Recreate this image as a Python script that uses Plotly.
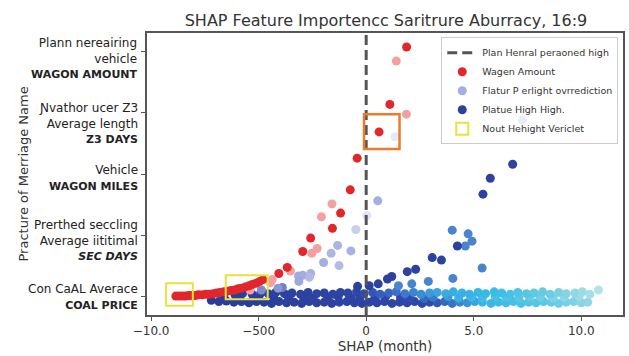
import plotly.graph_objects as go

# ---------------- data ----------------
title_text = "SHAP Feature Importencc Saritrure Aburracy, 16:9"
y_positions = [0, 1, 2, 3, 4]
y_categories = [
    "Con CaAL Averace<br><b>COAL PRICE</b>",
    "Prerthed seccling<br>Average iititimal<br><b><i>SEC DAYS</i></b>",
    "Vehicle<br><b>WAGON MILES</b>",
    "Ɲvathor ucer Z3<br>Average length<br><b>Z3 DAYS</b>",
    "Plann nereairing<br>vehicle<br><b>WAGON AMOUNT</b>",
]
x_tick_vals = [-10, -5, 0, 5, 10]
x_tick_text = ["\u221210.0", "\u2212500", "0", "5.0", "10.0"]

# Wagen Amount (red) – strong red points
red_x = [-8.85, -8.7, -8.55, -8.4, -8.25, -8.1, -7.95, -7.8, -7.62, -7.45, -7.3, -7.12,
         -6.95, -6.8, -6.62, -6.45, -6.3, -6.12, -5.95, -5.8, -5.62, -5.45, -5.3, -5.12,
         -4.95, -4.8, -4.06, -3.67, -2.95, -2.58, -1.57, -1.19, -0.74, -0.42, 0.60, 1.10, 1.88]
red_y = [0.0, 0.0, 0.0, 0.0, 0.01, 0.01, 0.01, 0.02, 0.02, 0.03, 0.03, 0.04,
         0.05, 0.06, 0.07, 0.08, 0.09, 0.1, 0.12, 0.13, 0.15, 0.17, 0.19, 0.21,
         0.24, 0.27, 0.37, 0.47, 0.73, 0.95, 1.11, 1.36, 1.74, 2.26, 2.69, 3.14, 4.08]
# light red points of the same series
pink_x = [1.40, 1.87, -1.59, -2.08, -2.28, -2.53, -3.52, -4.37, -5.4, -4.45]
pink_y = [3.85, 2.98, 1.51, 1.30, 0.78, 0.70, 0.41, 0.27, 0.10, 0.22]

# Flatur P erlight ovrrediction (lavender)
lav_x = [0.54, -1.33, -0.71, -1.63, -1.98, -1.26, -2.58, -2.95, -3.15, -3.13, -3.9,
         -2.64, -4.87, -4.1, -0.48, 0.03, 1.34]
lav_y = [1.56, 0.83, 0.74, 0.70, 0.55, 0.50, 0.37, 0.34, 0.33, 0.24, 0.14,
         0.31, 0.10, 0.13, 1.09, 1.32, 2.61]
lav_shade = ["#a5aee0", "#aab3e2", "#a8b1e1", "#aeb7e4", "#a5aee0", "#b3bce6", "#a9b2e2",
             "#a3acdf", "#a3acdf", "#9ea8dd", "#6f7fc8", "#b0b9e5", "#7d8bcc", "#8d99d4",
             "#c7cfee", "#dfe5f5", "#e3e9f6"]

# Platue High High. (dark / medium blue outliers)
blue_x = [7.27, 6.81, 5.77, 5.43, 4.24, 3.50, 3.07, 2.30, 1.91, 1.19, 0.99, 0.56, 0.14, -0.40]
blue_y = [2.88, 2.16, 1.93, 1.67, 0.82, 0.59, 0.63, 0.44, 0.40, 0.32, 0.28, 0.20, 0.17, 0.16]
mblue_x = [4.0, 4.74, 4.92, 4.61, 5.39, 4.03, 2.89, 2.12, 1.50]
mblue_y = [1.08, 1.02, 0.90, 0.82, 0.46, 0.29, 0.24, 0.20, 0.17]

# dense band along COAL PRICE (upper, middle and lower rows)
band_up_x = [-6.1, -5.75, -5.3, -4.9, -4.55, -4.2, -3.8, -3.45, -3.05, -2.7, -2.3, -1.95,
             -1.55, -1.2, -0.85, -0.45, -0.1, 0.3, 0.65, 1.05, 1.4, 1.8, 2.2, 2.55, 2.95,
             3.3, 3.7, 4.05, 4.45, 4.8, 5.2, 5.55, 5.95, 6.3, 6.7, 7.05, 7.45, 7.8, 8.2,
             8.55, 8.95, 9.3, 9.7, 10.05, 10.4, 10.8]
band_up_y = [0.02, 0.04, 0.03, 0.05, 0.04, 0.06, 0.04, 0.05, 0.03, 0.06, 0.04, 0.05,
             0.03, 0.06, 0.05, 0.07, 0.04, 0.06, 0.03, 0.05, 0.07, 0.04, 0.06, 0.03, 0.05,
             0.06, 0.04, 0.07, 0.05, 0.03, 0.06, 0.04, 0.07, 0.05, 0.03, 0.06, 0.04, 0.05,
             0.07, 0.03, 0.06, 0.04, 0.05, 0.07, 0.03, 0.10]
band_mid_x = [-6.6, -5.9, -5.0, -4.3, -3.6, -2.9, -2.5, -1.8, -1.3, -0.7, -0.3, 0.4, 0.9,
              1.6, 2.0, 2.7, 3.1, 3.8, 4.3, 4.9, 5.4, 6.0, 6.5, 7.1, 7.6, 8.1, 8.7, 9.2,
              9.9]
band_mid_y = [-0.04, -0.02, -0.03, -0.01, -0.02, -0.03, -0.04, -0.02, -0.01, -0.03, -0.02,
              -0.03, -0.01, -0.02, -0.03, -0.04, -0.02, -0.01, -0.03, -0.02, -0.03, -0.01,
              -0.02, -0.03, -0.01, -0.02, -0.03, -0.02, -0.01]
band_lo_x = [-7.2, -6.85, -6.5, -6.15, -5.8, -5.45, -5.1, -4.75, -4.4, -4.05, -3.7, -3.35,
             -3.0, -2.65, -2.3, -1.95, -1.6, -1.25, -0.9, -0.55, -0.2, 0.15, 0.5, 0.85,
             1.2, 1.55, 1.9, 2.25, 2.6, 2.95, 3.3, 3.65, 4.0, 4.35, 4.7, 5.05, 5.4, 5.8,
             6.15, 6.5, 6.85, 7.2, 7.55, 7.9, 8.25, 8.6, 8.95, 9.3, 9.65, 10.0, 10.3]
band_lo_y = [-0.07, -0.09, -0.08, -0.1, -0.09, -0.11, -0.09, -0.1, -0.12, -0.09, -0.11,
             -0.1, -0.12, -0.09, -0.11, -0.1, -0.12, -0.1, -0.09, -0.11, -0.12, -0.1, -0.11,
             -0.09, -0.12, -0.1, -0.11, -0.09, -0.12, -0.1, -0.11, -0.09, -0.12, -0.1,
             -0.11, -0.09, -0.1, -0.12, -0.1, -0.11, -0.09, -0.12, -0.1, -0.11, -0.09,
             -0.1, -0.12, -0.1, -0.09, -0.11, -0.1]

# ---------------- figure ----------------
MS = 9
fig = go.Figure()

up_scale = [[0.0, "#2b3d9c"], [0.36, "#2e45a6"], [0.47, "#3d6fc9"], [0.58, "#3aa8e0"],
            [0.72, "#38bde8"], [0.86, "#6ccde0"], [1.0, "#b8e4ec"]]
lo_scale = [[0.0, "#2a3b98"], [0.55, "#2f47a8"], [0.62, "#3a7ccc"], [0.69, "#38b5e5"],
            [0.83, "#55c6e4"], [1.0, "#a0dce6"]]

fig.add_trace(go.Scatter(x=band_lo_x, y=band_lo_y, mode="markers", showlegend=False,
                         marker=dict(size=MS, color=band_lo_x, colorscale=lo_scale,
                                     cmin=-7, cmax=11, line=dict(width=0))))
fig.add_trace(go.Scatter(x=band_mid_x, y=band_mid_y, mode="markers", showlegend=False,
                         marker=dict(size=MS, color=band_mid_x, colorscale=lo_scale,
                                     cmin=-8, cmax=10, line=dict(width=0))))
fig.add_trace(go.Scatter(x=band_up_x, y=band_up_y, mode="markers", showlegend=False,
                         marker=dict(size=MS, color=band_up_x, colorscale=up_scale,
                                     cmin=-7, cmax=11, line=dict(width=0))))

fig.add_trace(go.Scatter(x=lav_x, y=lav_y, mode="markers", name="Flatur P erlight ovrrediction",
                         legendrank=3,
                         marker=dict(size=MS, color=lav_shade, line=dict(width=0))))
fig.add_trace(go.Scatter(x=pink_x, y=pink_y, mode="markers", showlegend=False,
                         marker=dict(size=MS, color="#f2a0a0", line=dict(width=0))))
fig.add_trace(go.Scatter(x=red_x, y=red_y, mode="markers", name="Wagen Amount", legendrank=2,
                         marker=dict(size=MS, color="#e2262a", line=dict(width=0))))
fig.add_trace(go.Scatter(x=mblue_x, y=mblue_y, mode="markers", showlegend=False,
                         marker=dict(size=MS, color="#4a84cf", line=dict(width=0))))
fig.add_trace(go.Scatter(x=blue_x, y=blue_y, mode="markers", name="Platue High High.",
                         legendrank=4,
                         marker=dict(size=MS, color="#2c41a0", line=dict(width=0))))

# reference line at zero
fig.add_shape(type="line", x0=0, x1=0, y0=0, y1=1, xref="x", yref="paper",
              line=dict(color="#555555", width=3, dash="10px,5px"),
              showlegend=True, name="Plan Henral peraoned high", legendrank=1)
# highlight boxes
fig.add_shape(type="rect", x0=-9.3, x1=-8.06, y0=-0.16, y1=0.21, xref="x", yref="y",
              line=dict(color="#e8e23a", width=2), fillcolor="rgba(0,0,0,0)",
              showlegend=True, name="Nout Hehight Vericlet", legendrank=5)
fig.add_shape(type="rect", x0=-6.53, x1=-4.58, y0=-0.05, y1=0.34, xref="x", yref="y",
              line=dict(color="#e8e23a", width=2), fillcolor="rgba(0,0,0,0)")
fig.add_shape(type="rect", x0=-0.1, x1=1.55, y0=2.41, y1=2.98, xref="x", yref="y",
              line=dict(color="#ee7a2a", width=2.5), fillcolor="rgba(0,0,0,0)")

# right-aligned category labels (bold lines set slightly smaller)
label_shift = [-1, -5, -4, -11, -7]
for yv, txt, sh in zip(y_positions, y_categories, label_shift):
    styled = txt.replace("<b>", '<span style="font-size:11px"><b>').replace("</b>", "</b></span>")
    fig.add_annotation(x=0, xref="paper", y=yv, yref="y", text=styled, showarrow=False,
                       xanchor="right", yanchor="middle", align="right", xshift=-7,
                       yshift=sh, font=dict(size=12, color="#222222"))
# y-axis title
fig.add_annotation(x=(22 - 147) / 478, xref="paper", y=0.5, yref="paper",
                   text="Practure of Merriage Name", textangle=-90, showarrow=False,
                   xanchor="center", yanchor="middle",
                   font=dict(size=13, color="#333333"))

fig.update_layout(
    width=629, height=356,
    margin=dict(l=147, r=4, t=33, b=39),
    paper_bgcolor="white", plot_bgcolor="white",
    font=dict(family="DejaVu Sans", color="#222222"),
    title=dict(text=title_text, x=(147 + 625) / 2 / 629, xanchor="center",
               y=1 - 20 / 356, yanchor="middle",
               font=dict(size=16, color="#333333")),
    showlegend=True,
    legend=dict(x=0.99, y=0.985, xanchor="right", yanchor="top", itemwidth=30,
                bgcolor="rgba(255,255,255,0.9)", bordercolor="#cccccc", borderwidth=1,
                font=dict(size=9.5, color="#333333")),
    xaxis=dict(range=[-10.19, 11.94], tickvals=x_tick_vals, ticktext=x_tick_text,
               showgrid=False, zeroline=False, showline=True, mirror=True,
               linecolor="#555555", linewidth=1.5, ticks="outside", ticklen=4,
               tickcolor="#555555", tickfont=dict(size=12, color="#333333"),
               title=dict(text="SHAP (month)", font=dict(size=13.5, color="#333333"),
                          standoff=4)),
    yaxis=dict(range=[-0.31, 4.31], tickvals=y_positions, showticklabels=False,
               showgrid=False, zeroline=False, showline=True, mirror=True,
               linecolor="#555555", linewidth=1.5, ticks="outside", ticklen=4,
               tickcolor="#555555"),
)

fig.write_html("out.html")
